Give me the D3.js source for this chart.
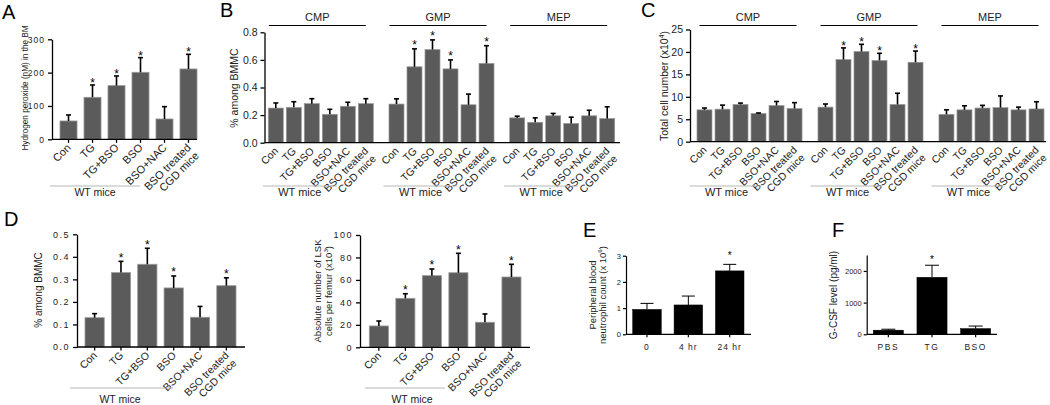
<!DOCTYPE html>
<html><head><meta charset="utf-8">
<script src="https://cdn.jsdelivr.net/npm/d3@7"></script>
<style>
body{margin:0;background:#fff;}
svg{display:block;font-family:"Liberation Sans",Arial,Helvetica,sans-serif;}
</style></head><body>
<svg id="c" width="1050" height="405"></svg>
<script>
// ---------------- data ----------------
const treatments = ["Con", "TG", "TG+BSO", "BSO", "BSO+NAC", "BSO treated\nCGD mice"];
const progenitors = ["CMP", "GMP", "MEP"];

// A: hydrogen peroxide (nM) in BM
const h2o2Mean = [55, 126, 161, 201, 61, 211];
const h2o2Sem  = [18, 37, 29, 44, 37, 44];
const h2o2Star = [0, 1, 1, 1, 0, 1];

// B: % among BMMC
const pctCMP = [0.251, 0.256, 0.283, 0.206, 0.264, 0.283];
const pctCMPSem = [0.037, 0.041, 0.036, 0.036, 0.029, 0.036];
const pctGMP = [0.28, 0.55, 0.675, 0.535, 0.275, 0.575];
const pctGMPSem = [0.038, 0.13, 0.07, 0.065, 0.077, 0.128];
const pctMEP = [0.18, 0.148, 0.195, 0.14, 0.195, 0.175];
const pctMEPSem = [0.012, 0.032, 0.017, 0.045, 0.04, 0.085];

// C: total cell number (x10^4)
const numCMP = [7.1, 7.25, 8.3, 6.3, 8.06, 7.4];
const numCMPSem = [0.4, 0.9, 0.3, 0.1, 0.9, 1.3];
const numGMP = [7.7, 18.3, 20.1, 18.1, 8.3, 17.7];
const numGMPSem = [0.7, 2.6, 1.6, 1.6, 2.5, 2.5];
const numMEP = [6.1, 7.1, 7.5, 7.6, 7.1, 7.3];
const numMEPSem = [1.0, 0.9, 0.6, 2.6, 0.6, 1.6];
const progStars = [[0,0,0,0,0,0],[0,1,1,1,0,1],[0,0,0,0,0,0]];

// D: LSK
const lskPct = [0.13, 0.33, 0.367, 0.262, 0.132, 0.272];
const lskPctSem = [0.018, 0.05, 0.071, 0.053, 0.048, 0.035];
const lskNum = [19, 43.6, 63.8, 66.4, 22.3, 62.6];
const lskNumSem = [4.4, 4.1, 5.9, 17.3, 7.4, 11.3];
const lskStar = [0, 1, 1, 1, 0, 1];

// E: peripheral blood neutrophil count
const timePoints = ["0", "4 hr", "24 hr"];
const neutMean = [0.95, 1.12, 2.42];
const neutSem = [0.23, 0.34, 0.25];
const neutStar = [0, 0, 1];

// F: G-CSF
const gcsfGroups = ["PBS", "TG", "BSO"];
const gcsfMean = [130, 1800, 180];
const gcsfSem = [30, 380, 80];
const gcsfStar = [0, 1, 0];

const ticksA = [0, 100, 200, 300];
const ticksB = [0, 0.2, 0.4, 0.6, 0.8];
const ticksC = [0, 5, 10, 15, 20, 25];
const ticksDl = [0, 0.1, 0.2, 0.3, 0.4, 0.5];
const ticksDr = [0, 20, 40, 60, 80, 100];
const ticksE = [0, 1, 2, 3];
const ticksF = [0, 1000, 2000];

// ---------------- drawing ----------------
const svg = d3.select("#c");
const GRAY = "#5b5b5b", EDGE = "#9a9a9a";

function panelLetter(t, x, y) {
  svg.append("text").attr("x", x).attr("y", y).attr("font-size", 20).text(t);
}

function yAxis(y, x, vals, fmt, st) {
  const ax = d3.axisLeft(y).tickValues(vals).tickFormat(fmt)
    .tickSize(st.tickLen).tickSizeOuter(0).tickPadding(st.pad);
  const a = svg.append("g").attr("transform", `translate(${x},0)`).call(ax);
  a.select(".domain").attr("stroke", "#000").attr("stroke-width", st.lw);
  a.selectAll(".tick line").attr("stroke", "#000").attr("stroke-width", st.lw);
  a.selectAll(".tick text").attr("font-family", null).attr("font-size", st.fs)
    .attr("letter-spacing", st.ls || 0).attr("fill", "#222");
  return a;
}

function yLabel(lines, x, yc, fs, lh) {
  const t = svg.append("text").attr("transform", `translate(${x},${yc}) rotate(-90)`)
    .attr("text-anchor", "middle").attr("font-size", fs).attr("fill", "#222");
  lines.forEach((ln, i) => {
    const ts = t.append("tspan").attr("x", 0).attr("dy", i === 0 ? (-(lines.length - 1) * lh / 2) : lh);
    ln.forEach(part => {
      const p = ts.append("tspan").text(part.t);
      if (part.sup) p.attr("font-size", fs * 0.65).attr("dy", -fs * 0.4);
      if (part.after) p.attr("dy", fs * 0.4);
    });
  });
}

function bars(x, y, cats, mean, sem, star, st) {
  const g = svg.append("g");
  const bw = x.bandwidth();
  cats.forEach((c, i) => {
    const x0 = x(c), cx = x0 + bw / 2;
    g.append("rect").attr("x", x0).attr("y", y(mean[i])).attr("width", bw)
      .attr("height", y(0) - y(mean[i])).attr("fill", st.fill)
      .attr("stroke", st.stroke).attr("stroke-width", st.sw);
    const ye = y(mean[i] + sem[i]);
    g.append("line").attr("x1", cx).attr("x2", cx).attr("y1", y(mean[i])).attr("y2", ye)
      .attr("stroke", "#000").attr("stroke-width", st.ew);
    g.append("line").attr("x1", cx - st.cap / 2).attr("x2", cx + st.cap / 2).attr("y1", ye).attr("y2", ye)
      .attr("stroke", "#000").attr("stroke-width", st.ew);
    if (star[i]) {
      g.append("text").attr("x", cx).attr("y", ye - st.starGap + 0.575 * st.starFs)
        .attr("text-anchor", "middle").attr("font-size", st.starFs).text("*");
    }
    if (st.xtick) {
      g.append("line").attr("x1", cx).attr("x2", cx).attr("y1", y(0)).attr("y2", y(0) + st.xtick)
        .attr("stroke", "#000").attr("stroke-width", st.lw || 1.2);
    }
  });
}

function rotLabels(x, y0, cats, fs, dx, dy, lh) {
  const bw = x.bandwidth();
  cats.forEach(c => {
    const cx = x(c) + bw / 2;
    const t = svg.append("text").attr("transform", `translate(${cx + dx},${y0 + dy}) rotate(-45)`)
      .attr("text-anchor", "end").attr("font-size", fs).attr("fill", "#222");
    c.split("\n").forEach((ln, i) => {
      t.append("tspan").attr("x", 0).attr("dy", i === 0 ? 0 : lh).text(ln);
    });
  });
}

function baseLine(x1, x2, y, lw) {
  svg.append("line").attr("x1", x1).attr("x2", x2).attr("y1", y).attr("y2", y)
    .attr("stroke", "#000").attr("stroke-width", lw);
}

function wtMice(x1, x2, y, tx, ty, fs) {
  svg.append("line").attr("x1", x1).attr("x2", x2).attr("y1", y).attr("y2", y)
    .attr("stroke", "#b8b8b8").attr("stroke-width", 1.2);
  svg.append("text").attr("x", tx).attr("y", ty).attr("text-anchor", "middle")
    .attr("font-size", fs).attr("fill", "#222").text("WT mice");
}

// ---------- Panel A ----------
panelLetter("A", 2, 19);
{
  const y = d3.scaleLinear().domain([0, 300]).range([139.3, 39.3]);
  const x = d3.scaleBand().domain(treatments).range([60, 197]).paddingInner(0.29).paddingOuter(0);
  bars(x, y, treatments, h2o2Mean, h2o2Sem, h2o2Star,
    { fill: GRAY, stroke: EDGE, sw: 0.8, ew: 1.6, cap: 5, starGap: 5, starFs: 12, xtick: 3.5, lw: 1.3 });
  yAxis(y, 52, ticksA, d3.format("d"), { tickLen: 4, pad: 3, lw: 1.3, fs: 8.5, ls: 1 });
  baseLine(52, 197, y(0), 1.3);
  rotLabels(x, y(0), treatments, 11, 3, 9, 11.5);
  yLabel([[{ t: "Hydrogen peroxide (nM) in the BM" }]], 28, 88, 8.2, 11);
  wtMice(50, 140, 186, 95, 196, 10.5);
}

// ---------- Panel B & C (grouped) ----------
function grouped(cfg) {
  const y = cfg.y;
  const outer = d3.scaleBand().domain(progenitors).range(cfg.range).paddingInner(cfg.gpad).paddingOuter(0);
  cfg.data.forEach((d, gi) => {
    const g = progenitors[gi];
    const gs = outer(g);
    const x = d3.scaleBand().domain(treatments).range([gs, gs + outer.bandwidth()])
      .paddingInner(0.167).paddingOuter(0.083);
    bars(x, y, treatments, d.mean, d.sem, progStars[gi],
      { fill: GRAY, stroke: EDGE, sw: 0.7, ew: 1.6, cap: 5, starGap: cfg.starGap, starFs: 12 });
    rotLabels(x, y(0), treatments, 10.5, 3, 9, 11);
    svg.append("line").attr("x1", gs + cfg.hdr[0]).attr("x2", gs + cfg.hdr[1])
      .attr("y1", 25.5).attr("y2", 25.5).attr("stroke", "#000").attr("stroke-width", 1.1);
    svg.append("text").attr("x", gs + (cfg.hdr[0] + cfg.hdr[1]) / 2).attr("y", 21)
      .attr("text-anchor", "middle").attr("font-size", 11).attr("fill", "#222").text(g);
    wtMice(gs + cfg.wt[0], gs + cfg.wt[1], 186, gs + cfg.wt[2], 196, 11);
  });
  yAxis(y, cfg.axisX, cfg.ticks, cfg.fmt, { tickLen: 4, pad: 3, lw: 1.3, fs: 10.5 });
  baseLine(cfg.axisX, cfg.end, y(0), 1.3);
}

panelLetter("B", 220, 17);
grouped({
  y: d3.scaleLinear().domain([0, 0.8]).range([142.7, 32.3]),
  range: [266.8, 616.2], gpad: 0.105, axisX: 264.5, end: 620,
  ticks: ticksB, fmt: d3.format(".1f"), starGap: 7,
  hdr: [2, 99], wt: [-4, 70, 33],
  data: [{ mean: pctCMP, sem: pctCMPSem }, { mean: pctGMP, sem: pctGMPSem }, { mean: pctMEP, sem: pctMEPSem }]
});
yLabel([[{ t: "% among BMMC" }]], 238, 88, 10.5, 11);

panelLetter("C", 641, 17);
grouped({
  y: d3.scaleLinear().domain([0, 25]).range([141.7, 29.5]),
  range: [695.5, 1045.5], gpad: 0.107, axisX: 690, end: 1046,
  ticks: ticksC, fmt: d3.format("d"), starGap: 5,
  hdr: [4, 101], wt: [-6, 66, 31],
  data: [{ mean: numCMP, sem: numCMPSem }, { mean: numGMP, sem: numGMPSem }, { mean: numMEP, sem: numMEPSem }]
});
yLabel([[{ t: "Total cell number (x10" }, { t: "4", sup: true }, { t: ")", after: true }]], 668, 86, 10.5, 11);

// ---------- Panel D ----------
panelLetter("D", 4, 226);
{
  const y = d3.scaleLinear().domain([0, 0.5]).range([347, 234.3]);
  const x = d3.scaleBand().domain(treatments).range([85, 236]).paddingInner(0.27).paddingOuter(0);
  bars(x, y, treatments, lskPct, lskPctSem, lskStar,
    { fill: GRAY, stroke: EDGE, sw: 0.8, ew: 1.6, cap: 5, starGap: 6.5, starFs: 12, xtick: 3.5, lw: 1.3 });
  yAxis(y, 77, ticksDl, d3.format(".1f"), { tickLen: 4, pad: 3, lw: 1.3, fs: 9, ls: 1.5 });
  baseLine(77, 245, y(0), 1.3);
  rotLabels(x, y(0), treatments, 10.5, 3, 9, 11);
  yLabel([[{ t: "% among BMMC" }]], 42, 290, 10, 11);
  wtMice(70, 173, 388, 120, 403, 10.5);
}
{
  const y = d3.scaleLinear().domain([0, 100]).range([347.3, 235]);
  const x = d3.scaleBand().domain(treatments).range([369.3, 521]).paddingInner(0.28).paddingOuter(0);
  bars(x, y, treatments, lskNum, lskNumSem, lskStar,
    { fill: GRAY, stroke: EDGE, sw: 0.8, ew: 1.6, cap: 5, starGap: 6.5, starFs: 12, xtick: 3.5, lw: 1.3 });
  yAxis(y, 360, ticksDr, d3.format("d"), { tickLen: 4, pad: 3, lw: 1.3, fs: 9, ls: 1.5 });
  baseLine(360, 530, y(0), 1.3);
  rotLabels(x, y(0), treatments, 10.5, 3, 9, 11);
  yLabel([[{ t: "Absolute number of LSK" }], [{ t: "cells per femur  (x10" }, { t: "3", sup: true }, { t: ")", after: true }]], 326, 291, 9.5, 11);
  wtMice(365, 445, 388, 412, 403, 10.5);
}

// ---------- Panel E ----------
panelLetter("E", 583, 237);
{
  const y = d3.scaleLinear().domain([0, 3]).range([334.3, 255.7]);
  const x = d3.scaleBand().domain(timePoints).range([632.7, 744]).paddingInner(0.31).paddingOuter(0);
  bars(x, y, timePoints, neutMean, neutSem, neutStar,
    { fill: "#000", stroke: "#000", sw: 0.5, ew: 1, cap: 13, starGap: 11, starFs: 10, xtick: 3, lw: 1.2 });
  yAxis(y, 626, ticksE, d3.format("d"), { tickLen: 3, pad: 2, lw: 1.2, fs: 7.5 });
  baseLine(626, 751, y(0), 1.2);
  x.domain().forEach(c => svg.append("text").attr("x", x(c) + x.bandwidth() / 2).attr("y", 350)
    .attr("text-anchor", "middle").attr("font-size", 8.5).attr("letter-spacing", 1).attr("fill", "#222").text(c));
  yLabel([[{ t: "Peripheral blood" }], [{ t: "neutrophil count (x 10" }, { t: "6", sup: true }, { t: ")", after: true }]], 601, 295, 9.5, 9.5);
}

// ---------- Panel F ----------
panelLetter("F", 832, 237);
{
  const y = d3.scaleLinear().domain([0, 2500]).range([334.3, 255.1]);
  const x = d3.scaleBand().domain(gcsfGroups).range([873.3, 990.7]).paddingInner(0.31).paddingOuter(0);
  bars(x, y, gcsfGroups, gcsfMean, gcsfSem, gcsfStar,
    { fill: "#000", stroke: "#000", sw: 0.5, ew: 1, cap: 14, starGap: 8, starFs: 10, xtick: 3, lw: 1.2 });
  yAxis(y, 866.7, ticksF, d3.format("d"), { tickLen: 3, pad: 2, lw: 1.2, fs: 7.5 });
  baseLine(866.7, 997, y(0), 1.2);
  x.domain().forEach(c => svg.append("text").attr("x", x(c) + x.bandwidth() / 2).attr("y", 350)
    .attr("text-anchor", "middle").attr("font-size", 8.5).attr("letter-spacing", 1.5).attr("fill", "#222").text(c));
  yLabel([[{ t: "G-CSF level (pg/ml)" }]], 837, 295, 10, 11);
}
</script>
</body></html>
